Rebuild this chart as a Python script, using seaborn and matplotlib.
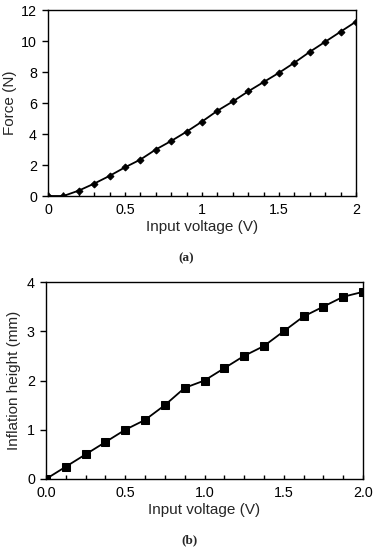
import numpy as np
import pandas as pd
import matplotlib
matplotlib.use("Agg")
import matplotlib.pyplot as plt
import seaborn as sns
from matplotlib.ticker import FixedLocator

# Panel (a) data
volt_a = [0.0, 0.1, 0.2, 0.3, 0.4, 0.5, 0.6, 0.7, 0.8, 0.9, 1.0,
          1.1, 1.2, 1.3, 1.4, 1.5, 1.6, 1.7, 1.8, 1.9, 2.0]
force_a = [0.0, 0.0, 0.35, 0.8, 1.3, 1.85, 2.35, 3.0, 3.55, 4.15, 4.8,
           5.5, 6.1, 6.75, 7.35, 7.95, 8.6, 9.3, 9.95, 10.6, 11.25]
xticks_a = [0, 0.5, 1, 1.5, 2]
xticklabels_a = ["0", "0.5", "1", "1.5", "2"]
yticks_a = [0, 2, 4, 6, 8, 10, 12]

# Panel (b) data
volt_b = [0.0, 0.125, 0.25, 0.375, 0.5, 0.625, 0.75, 0.875, 1.0,
          1.125, 1.25, 1.375, 1.5, 1.625, 1.75, 1.875, 2.0]
height_b = [0.0, 0.25, 0.5, 0.75, 1.0, 1.2, 1.5, 1.85, 2.0,
            2.25, 2.5, 2.7, 3.0, 3.3, 3.5, 3.7, 3.8]
xticks_b = [0.0, 0.5, 1.0, 1.5, 2.0]
xticklabels_b = ["0.0", "0.5", "1.0", "1.5", "2.0"]
yticks_b = [0, 1, 2, 3, 4]

sns.set_style("white")
plt.rcParams['font.family'] = ['Liberation Sans', 'DejaVu Sans']

fig = plt.figure(figsize=(3.73, 5.5), dpi=100)
ax1 = fig.add_axes([48/373, 1-196/550, 308/373, 186/550])
ax2 = fig.add_axes([46/373, 1-479/550, 317/373, 197/550])

dfa = pd.DataFrame({"v": volt_a, "f": force_a})
dfb = pd.DataFrame({"v": volt_b, "h": height_b})

sns.lineplot(data=dfa, x="v", y="f", ax=ax1, color="black", lw=1.3,
             marker="D", markersize=3.5, markeredgecolor="black")
sns.lineplot(data=dfb, x="v", y="h", ax=ax2, color="black", lw=1.3,
             marker="s", markersize=5.5, markeredgecolor="black")

fs = 10.3
lfs = 11
for ax in (ax1, ax2):
    for s in ax.spines.values():
        s.set_visible(True)
        s.set_color("black")
        s.set_linewidth(1.0)
    ax.tick_params(axis="y", which="both", direction="out", length=4,
                   width=1, colors="black", labelsize=fs, left=True, pad=4)
    ax.tick_params(axis="x", which="both", direction="in", length=3,
                   width=1, colors="black", labelsize=fs, bottom=True, pad=5)
    ax.set_xlabel("Input voltage (V)", fontsize=lfs, labelpad=2)

ax1.set_xlim(0, 2)
ax1.set_ylim(0, 12)
ax1.set_xticks(xticks_a)
ax1.set_xticklabels(xticklabels_a)
ax1.xaxis.set_minor_locator(FixedLocator(volt_a))
ax1.set_yticks(yticks_a)
ax1.set_ylabel("Force (N)", fontsize=lfs, labelpad=3)

ax2.set_xlim(0, 2)
ax2.set_ylim(0, 4)
ax2.set_xticks(xticks_b)
ax2.set_xticklabels(xticklabels_b)
ax2.xaxis.set_minor_locator(FixedLocator(volt_b))
ax2.set_yticks(yticks_b)
ax2.set_ylabel("Inflation height (mm)", fontsize=lfs, labelpad=4)

fig.text(186/373, 1-258/550, "(a)", ha="center", va="center",
         fontsize=9.5, family="Liberation Serif", fontweight="bold")
fig.text(189/373, 1-540/550, "(b)", ha="center", va="center",
         fontsize=9.5, family="Liberation Serif", fontweight="bold")

fig.savefig("out.png", dpi=100)
